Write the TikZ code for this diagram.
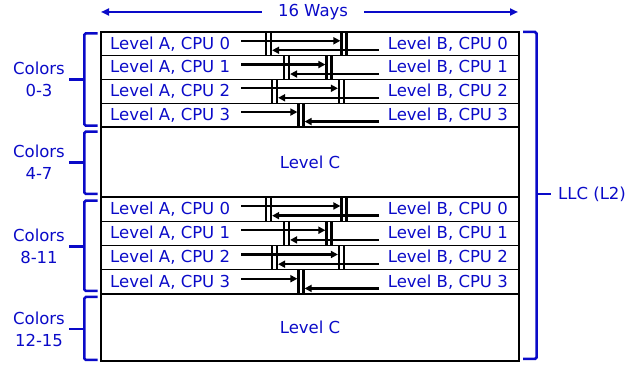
\documentclass[tikz,border=0pt]{standalone}
\usepackage{fontspec}
\setmainfont{DejaVu Sans}
\usetikzlibrary{arrows.meta}
\definecolor{tblue}{RGB}{10,10,200}
\begin{document}
\begin{tikzpicture}[x=1pt,y=-1pt,
  lbl/.style={text=tblue,font=\fontsize{16.5}{22}\selectfont,inner sep=0pt},
  arr/.style={line width=2.4pt,-{Triangle[length=7pt,width=7pt]}},
  barline/.style={line width=2.2pt},
  brace/.style={draw=tblue,line width=2.5pt,rounded corners=1.5pt},
  wayarr/.style={draw=tblue,line width=2.4pt,-{Triangle[length=8pt,width=7pt]}},
  thin/.style={line width=1.2pt},
  thick/.style={line width=2.8pt}]
\useasboundingbox (0,0) rectangle (641,366);
% top label
\node[lbl] (ways) at (313,12) {16 Ways};
\coordinate (wl) at (101,12);
\coordinate (wr) at (518,12);
\draw[wayarr] ([xshift=-16pt]ways.west) -- (wl);
\draw[wayarr] ([xshift=16pt]ways.east) -- (wr);
% rows
\foreach \T/\h/\g in {32/23.75/a,197/24.25/b}{
  \foreach \i/\L/\R in {0/268.5/344,1/286.5/329,2/274.5/341.5,3/301/301}{
    \pgfmathsetmacro\rt{\T+\i*\h}
    \pgfmathsetmacro\rbot{\rt+\h}
    \pgfmathsetmacro\rmid{\rt+0.5*\h}
    \pgfmathsetmacro\ya{\rt+0.37*\h}
    \pgfmathsetmacro\yb{\rt+0.77*\h}
    \node[lbl,anchor=west] (A\g\i) at (110,\rmid) {Level A, CPU \i};
    \node[lbl,anchor=east] (B\g\i) at (508,\rmid) {Level B, CPU \i};
    \draw[barline] (\L-2.5,\rt) -- (\L-2.5,\rbot) (\L+2.5,\rt) -- (\L+2.5,\rbot);
    \draw[barline] (\R-2.5,\rt) -- (\R-2.5,\rbot) (\R+2.5,\rt) -- (\R+2.5,\rbot);
    \coordinate (sa\g\i) at (241,\ya);
    \coordinate (ea\g\i) at (\R-3.6,\ya);
    \coordinate (sb\g\i) at (379,\yb);
    \coordinate (eb\g\i) at (\L+3.6,\yb);
    \draw[arr] (sa\g\i) -- (ea\g\i);
    \draw[arr] (sb\g\i) -- (eb\g\i);
    \ifnum\i>0 \draw[thin] (101,\rt) -- (519,\rt); \fi
  }
}
% Level C
\node[lbl] (c1) at (310,162) {Level C};
\node[lbl] (c2) at (310,327.5) {Level C};
% box
\draw[thick] (101,127) -- (519,127) (101,197) -- (519,197) (101,294) -- (519,294);
\draw[line width=2.4pt] (101,32) rectangle (519,361);
% left braces
\foreach \a/\b/\t/\lab/\n in {33.3/125.7/79.3/{0-3}/1,131.7/194/162.7/{4-7}/2,200.7/291/246.7/{8-11}/3,297/360/329/{12-15}/4}{
  \draw[brace] (97.7,\a) -- (84.3,\a) -- (84.3,\b) -- (97.7,\b);
  \node[lbl,align=center] (col\n) at (39,\t) {Colors\\\lab};
  \coordinate (tk\n) at (84.3,\t);
  \draw[brace] (tk\n) -- ([xshift=4pt]col\n.east |- tk\n);
}
% right brace
\draw[brace] (523,32) -- (536.5,32) -- (536.5,359) -- (523,359);
\node[lbl,anchor=west] (llc) at (558,194) {LLC (L2)};
\coordinate (rt) at (536.5,194);
\draw[brace] (rt) -- ([xshift=-7pt]llc.west);
\end{tikzpicture}
\end{document}
